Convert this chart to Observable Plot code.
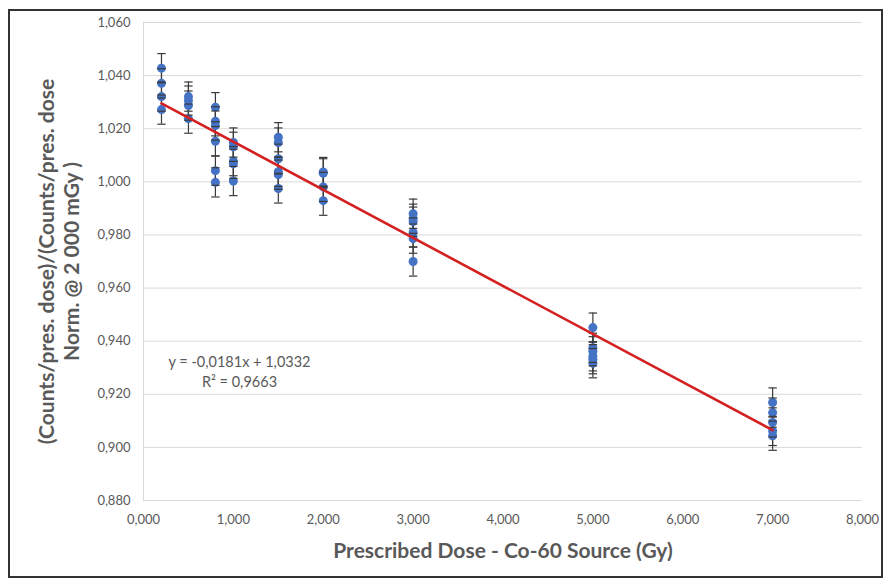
<!DOCTYPE html>
<html>
<head>
<meta charset="utf-8">
<script src="https://cdn.jsdelivr.net/npm/d3@7"></script>
<script src="https://cdn.jsdelivr.net/npm/@observablehq/plot@0.6"></script>
<style>
  html, body { margin: 0; padding: 0; background: #fff; }
  #wrap { position: relative; width: 888px; height: 583px; overflow: hidden; }
  #frame { position: absolute; left: 8px; top: 9px; width: 875px; height: 569px; border: 2px solid #333; box-sizing: border-box; pointer-events: none; }
  #chart { position: absolute; left: 0; top: 0; }
</style>
</head>
<body>
<div id="wrap"><div id="chart"></div><div id="frame"></div></div>
<script>
// Prescribed dose levels (Gy)
const doseLevels = [0.2, 0.5, 0.8, 1.0, 1.5, 2.0, 3.0, 5.0, 7.0];
// Normalised response ratios read per dose level
const ratio_0_2 = [1.0428, 1.0371, 1.0321, 1.0272];
const ratio_0_5 = [1.0321, 1.0306, 1.0287, 1.0238];
const ratio_0_8 = [1.0281, 1.0228, 1.0212, 1.0153, 1.0042, 0.9998];
const ratio_1_0 = [1.0148, 1.0132, 1.0078, 1.0068, 1.0003];
const ratio_1_5 = [1.0168, 1.0148, 1.0087, 1.0038, 1.0027, 0.9975];
const ratio_2_0 = [1.0037, 1.0032, 0.9981, 0.9929];
const ratio_3_0 = [0.9880, 0.9861, 0.9850, 0.9809, 0.9786, 0.9700];
const ratio_5_0 = [0.9451, 0.9375, 0.9362, 0.9343, 0.9332, 0.9317];
const ratio_7_0 = [0.9169, 0.9131, 0.9094, 0.9062, 0.9044];
const ratiosByDose = [ratio_0_2, ratio_0_5, ratio_0_8, ratio_1_0, ratio_1_5, ratio_2_0, ratio_3_0, ratio_5_0, ratio_7_0];
// Error bar half-length
const errBar = 0.0055;
// Linear trendline (Excel)
const slope = -0.0181;
const intercept = 1.0332;
const rSquared = 0.9663;
// Axis ticks
const xTicks = [0, 1, 2, 3, 4, 5, 6, 7, 8];
const yTicks = [0.88, 0.90, 0.92, 0.94, 0.96, 0.98, 1.00, 1.02, 1.04, 1.06];
const xTitle = "Prescribed Dose - Co-60 Source (Gy)";
const yTitle = "(Counts/pres. dose)/(Counts/pres. dose\nNorm. @ 2 000 mGy )";

const fmt3 = d => d.toFixed(3).replace(".", ",");
const fmt4 = d => d.toFixed(4).replace(".", ",");

const points = doseLevels.flatMap((d, i) => ratiosByDose[i].map(v => ({dose: d, ratio: v})));
const xMin = d3.min(doseLevels), xMax = d3.max(doseLevels);
const trend = [xMin, xMax].map(x => ({dose: x, fit: slope * x + intercept}));
const eqText = `y = ${fmt4(slope)}x + ${fmt4(intercept)}\nR² = ${fmt4(rSquared)}`;

const capSymbol = {
  draw(ctx, size) {
    const r = Math.sqrt(size / Math.PI);
    ctx.moveTo(-r, 0);
    ctx.lineTo(r, 0);
  }
};

const chart = Plot.plot({
  width: 888,
  height: 583,
  marginLeft: 143,
  marginRight: 26,
  marginTop: 22,
  marginBottom: 83,
  style: {fontFamily: "Lato, sans-serif", fontSize: "13px", color: "#595959", background: "transparent"},
  x: {domain: [0, 8], ticks: xTicks, tickFormat: fmt3, tickSize: 0, tickPadding: 14, label: null},
  y: {domain: [0.88, 1.06], ticks: yTicks, tickFormat: fmt3, tickSize: 0, tickPadding: 13, label: null},
  marks: [
    Plot.ruleY(yTicks, {stroke: "#d9d9d9", strokeWidth: 1}),
    Plot.ruleX([0], {stroke: "#d9d9d9", strokeWidth: 1}),
    Plot.ruleX(points, {x: "dose", y1: d => d.ratio - errBar, y2: d => d.ratio + errBar, stroke: "#3a3a3a", strokeWidth: 1.2}),
    Plot.dot(points, {x: "dose", y: "ratio", r: 4.5, fill: "#4472C4", stroke: "none"}),
    Plot.dot(points, {x: "dose", y: d => d.ratio + errBar, symbol: capSymbol, r: 4.2, stroke: "#3a3a3a", strokeWidth: 1.2, fill: "none"}),
    Plot.dot(points, {x: "dose", y: d => d.ratio - errBar, symbol: capSymbol, r: 4.2, stroke: "#3a3a3a", strokeWidth: 1.2, fill: "none"}),
    Plot.line(trend, {x: "dose", y: "fit", stroke: "#d42020", strokeWidth: 2.6}),
    Plot.text([eqText], {frameAnchor: "top-left", dx: 96, dy: 348, textAnchor: "middle", lineAnchor: "middle", lineHeight: 1.4, fontSize: 14.5, fill: "#595959"}),
    Plot.text([xTitle], {frameAnchor: "bottom", dy: 51, lineAnchor: "middle", fontSize: 21, fontWeight: "bold", fill: "#595959"}),
    Plot.text([yTitle], {frameAnchor: "left", dx: -85, rotate: -90, textAnchor: "middle", lineAnchor: "middle", lineHeight: 1.2, fontSize: 21, fontWeight: "bold", fill: "#595959"})
  ]
});
document.getElementById("chart").appendChild(chart);
</script>
</body>
</html>
